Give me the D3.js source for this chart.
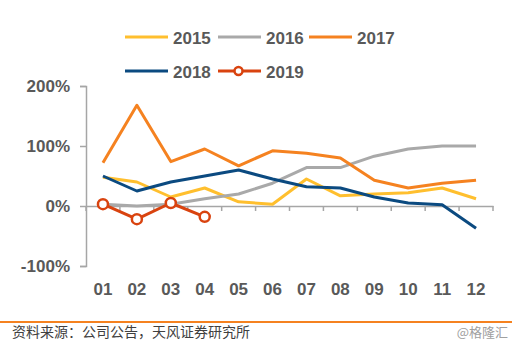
<!DOCTYPE html>
<html>
<head>
<meta charset="utf-8">
<script src="https://cdn.jsdelivr.net/npm/d3@7"></script>
<style>
  body { margin: 0; background: #fff; }
  svg { display: block; }
</style>
</head>
<body>
<script>
const months = ['01','02','03','04','05','06','07','08','09','10','11','12']
const yTicks = [-100, 0, 100, 200]

// 同比增速 (%)
const v2015 = [48, 40, 15, 30, 7, 3, 45, 17, 20, 22, 30, 12]
const v2016 = [3, 0, 3, 12, 20, 38, 64, 64, 83, 95, 100, 100]
const v2017 = [72, 168, 74, 95, 67, 92, 88, 80, 43, 30, 38, 43]
const v2018 = [50, 25, 40, 50, 60, 45, 32, 30, 15, 5, 2, -37]
const v2019 = [3, -22, 5, -18]

const seriesNames = ['2015', '2016', '2017', '2018', '2019']
const seriesColors = ['#FFBF2E', '#A9A9A9', '#F58220', '#0B4A80', '#D9430F']
const series = [v2015, v2016, v2017, v2018, v2019]

const [width, height] = [515, 353]
const font = '"Liberation Sans", Arial, sans-serif'

const svg = d3.select('body').append('svg')
    .attr('width', width)
    .attr('height', height)

const x = d3.scaleBand().domain(months).range([86, 493])
const y = d3.scaleLinear().domain([-100, 200]).range([266, 86])

// y 轴
const yAxis = svg.append('g')
    .attr('transform', 'translate(86,0)')
    .call(d3.axisLeft(y).tickValues(yTicks).tickSize(6).tickPadding(10).tickFormat(d => d + '%'))
yAxis.select('.domain').attr('stroke', '#A6A6A6').attr('stroke-width', 1.5)
yAxis.selectAll('.tick line').attr('stroke', '#A6A6A6').attr('stroke-width', 1.5)
yAxis.selectAll('.tick text')
    .attr('fill', '#595959')
    .style('font', `bold 17px ${font}`)

// x 轴（在 0% 处）
const xAxis = svg.append('g')
    .attr('transform', `translate(0,${y(0)})`)
    .call(d3.axisBottom(x).tickSize(0).tickFormat(''))
xAxis.select('.domain').attr('stroke', '#A6A6A6').attr('stroke-width', 1.5)
xAxis.selectAll('.tick').remove()
xAxis.selectAll('.sep')
    .data(months.concat(['end']))
    .enter()
    .append('line')
        .attr('x1', (d, i) => 86 + i * x.step())
        .attr('x2', (d, i) => 86 + i * x.step())
        .attr('y1', 0)
        .attr('y2', 5)
        .attr('stroke', '#A6A6A6')
        .attr('stroke-width', 1.5)

svg.append('g').selectAll('text')
    .data(months)
    .enter()
    .append('text')
        .attr('x', d => x(d) + x.bandwidth() / 2)
        .attr('y', 295)
        .attr('text-anchor', 'middle')
        .attr('fill', '#595959')
        .style('font', `bold 17px ${font}`)
        .text(d => d)

// 折线
const line = d3.line()
    .x((d, i) => x(months[i]) + x.bandwidth() / 2)
    .y(d => y(d))

svg.append('g').selectAll('path')
    .data(series)
    .enter()
    .append('path')
        .attr('d', d => line(d))
        .attr('fill', 'none')
        .attr('stroke', (d, i) => seriesColors[i])
        .attr('stroke-width', 3)
        .attr('stroke-linejoin', 'round')

svg.append('g').selectAll('circle')
    .data(v2019)
    .enter()
    .append('circle')
        .attr('cx', (d, i) => x(months[i]) + x.bandwidth() / 2)
        .attr('cy', d => y(d))
        .attr('r', 5)
        .attr('fill', '#fff')
        .attr('stroke', seriesColors[4])
        .attr('stroke-width', 2.5)

// 图例
const legendPos = [[125, 37], [218, 37], [309, 37], [125, 71], [218, 71]]
const legend = svg.append('g').selectAll('g')
    .data(seriesNames)
    .enter()
    .append('g')
        .attr('transform', (d, i) => `translate(${legendPos[i][0]},${legendPos[i][1]})`)
legend.append('line')
    .attr('x1', 0).attr('x2', 43)
    .attr('stroke', (d, i) => seriesColors[i])
    .attr('stroke-width', 3)
legend.filter(d => d === '2019').append('circle')
    .attr('cx', 20.5).attr('r', 4)
    .attr('fill', '#fff')
    .attr('stroke', seriesColors[4])
    .attr('stroke-width', 2.5)
legend.append('text')
    .attr('x', 48)
    .attr('y', 6.5)
    .attr('fill', '#595959')
    .style('font', `bold 17px ${font}`)
    .text(d => d)

// 底部
svg.append('line')
    .attr('x1', 0).attr('x2', 512)
    .attr('y1', 322).attr('y2', 322)
    .attr('stroke', '#F58220')
    .attr('stroke-width', 2)

svg.append('text')
    .attr('x', 12).attr('y', 337)
    .attr('fill', '#404040')
    .style('font', '14px "Noto Sans CJK SC", sans-serif')
    .text('资料来源：公司公告，天风证券研究所')

svg.append('text')
    .attr('x', 508).attr('y', 337)
    .attr('text-anchor', 'end')
    .attr('fill', '#A0A0A0')
    .style('font', '13px "Noto Sans CJK SC", sans-serif')
    .text('@格隆汇')
</script>
</body>
</html>
